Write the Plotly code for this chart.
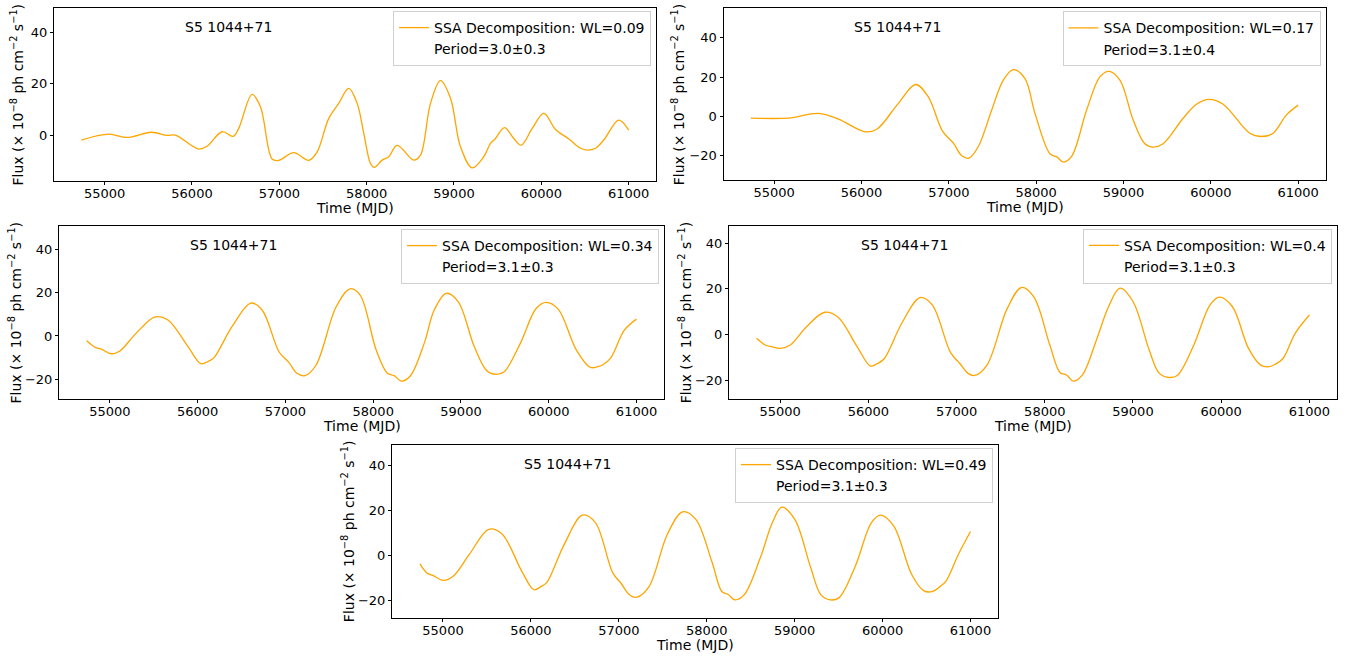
import plotly.graph_objects as go

# ---------------- data ----------------
source_name = "S5 1044+71"
wl_labels = ["SSA Decomposition: WL=0.09", "SSA Decomposition: WL=0.17",
             "SSA Decomposition: WL=0.34", "SSA Decomposition: WL=0.4",
             "SSA Decomposition: WL=0.49"]
period_labels = ["Period=3.0±0.3", "Period=3.1±0.4", "Period=3.1±0.3",
                 "Period=3.1±0.3", "Period=3.1±0.3"]

mjd1 = [54733, 55046, 55257, 55532, 55715, 55810, 56077, 56173, 56345, 56471, 56535,
        56688, 56784, 56918, 56993, 57165, 57337, 57433, 57566, 57680, 57795,
        57891, 57967, 58044, 58089, 58177, 58253, 58349, 58540, 58616, 58731,
        58845, 58960, 59074, 59208, 59341, 59418, 59475, 59578, 59685, 59770,
        59896, 60029, 60163, 60316, 60450, 60525, 60620, 60715, 60887, 61000]
flux1 = [-1.8, 0.5, -0.8, 1.2, 0.0, 0.1, -5.3, -4.2, 1.4, -0.4, 2.7,
         15.9, 11.1, -9.2, -9.7, -6.7, -9.7, -6.4, 6.6, 12.4, 18.2,
         12.4, 0.8, -10.9, -12.4, -9.6, -8.3, -3.9, -9.6, -7.7, 12.4,
         21.2, 14.4, -4.4, -12.6, -8.3, -3.1, -1.2, 3.0, -1.2, -3.8,
         2.7, 8.5, 2.3, -1.4, -5.0, -5.7, -5.0, -1.8, 5.9, 2.0]

mjd2 = [54733, 55164, 55507, 55736, 56041, 56175, 56422, 56621, 56765, 56926,
        57052, 57148, 57231, 57338, 57491, 57624, 57738, 57872, 57986, 58158,
        58241, 58310, 58406, 58578, 58730, 58836, 58959, 59111, 59245, 59340,
        59454, 59683, 59836, 59980, 60141, 60446, 60580, 60713, 60866, 61000]
flux2 = [-0.9, -0.9, 1.5, -1.4, -7.9, -6.6, 6.6, 16.2, 9.9, -7.4,
         -13.7, -20.1, -21.3, -15.4, 3.2, 18.4, 23.8, 19.2, 1.5, -19.1,
         -20.8, -23.3, -20.4, 3.2, 20.1, 22.9, 18.4, -1.9, -14.0, -15.7,
         -14.0, -1.0, 6.1, 8.6, 6.1, -8.6, -10.3, -8.6, 0.7, 5.7]

mjd3 = [54735, 54840, 54909, 55014, 55114, 55297, 55516, 55661, 55890, 56036,
        56118, 56186, 56391, 56606, 56734, 56930, 57039, 57131, 57222, 57349,
        57578, 57737, 57851, 58034, 58161, 58239, 58321, 58422, 58581, 58695,
        58832, 58969, 59151, 59297, 59402, 59493, 59676, 59858, 59973, 60109,
        60315, 60474, 60557, 60611, 60703, 60863, 60999]
flux3 = [-2.2, -5.4, -6.2, -8.2, -6.9, 1.2, 8.8, 7.4, -4.9, -12.8,
         -11.8, -10.0, 4.3, 15.2, 12.0, -7.5, -12.2, -17.2, -18.3, -13.4,
         13.5, 21.8, 18.9, -6.5, -17.2, -18.3, -20.8, -18.5, -3.4, 12.0,
         19.7, 15.8, -4.9, -16.2, -17.7, -16.5, -3.4, 12.8, 15.5, 12.3,
         -6.5, -14.5, -14.2, -13.4, -10.3, 2.8, 7.8]

mjd4 = [54733, 54830, 54908, 55000, 55115, 55299, 55506, 55657, 55874, 56025,
        56103, 56182, 56379, 56586, 56724, 56931, 57037, 57129, 57207, 57345,
        57575, 57736, 57874, 58057, 58172, 58251, 58324, 58425, 58586, 58724,
        58853, 59000, 59184, 59299, 59414, 59506, 59690, 59874, 59979, 60126,
        60310, 60448, 60540, 60609, 60701, 60839, 61000]
flux4 = [-1.6, -4.5, -5.3, -6.0, -4.5, 3.5, 9.8, 7.6, -5.3, -13.7,
         -12.6, -10.4, 5.0, 16.2, 13.0, -7.7, -12.6, -16.9, -17.8, -13.3,
         11.5, 20.6, 16.6, -4.5, -16.5, -17.7, -20.3, -17.7, -2.3, 12.3,
         20.3, 14.5, -6.7, -16.9, -18.7, -17.7, -4.5, 13.0, 16.4, 12.3,
         -6.0, -13.3, -14.0, -13.0, -10.4, 0.6, 8.6]

mjd5 = [54738, 54816, 54885, 55000, 55115, 55299, 55520, 55667, 55897, 56034,
        56117, 56182, 56379, 56586, 56733, 56931, 57023, 57124, 57207, 57345,
        57552, 57726, 57874, 58057, 58172, 58241, 58320, 58425, 58609, 58747,
        58853, 59000, 59184, 59299, 59405, 59506, 59690, 59874, 59979, 60126,
        60333, 60471, 60563, 60655, 60724, 60862, 61000]
flux5 = [-3.9, -7.9, -9.0, -11.2, -9.4, 0.3, 11.5, 9.6, -7.2, -15.4,
         -13.9, -12.1, 4.8, 17.8, 14.5, -7.9, -12.4, -17.7, -18.7, -13.9,
         9.3, 19.3, 16.0, -2.7, -16.2, -17.4, -19.9, -17.7, -1.2, 14.5,
         21.3, 16.0, -5.7, -17.7, -19.9, -18.9, -4.9, 14.5, 17.8, 13.0,
         -8.7, -15.9, -16.2, -13.9, -11.4, 0.3, 10.5]

x_ticks = [55000, 56000, 57000, 58000, 59000, 60000, 61000]
y_ticks = [-20, 0, 20, 40]

# ---------------- layout helpers ----------------
W, H = 1354, 658
# pixel boxes of each axes: (left, right, top, bottom)
boxes = [(54, 656, 8, 181), (723.5, 1325.5, 8.3, 180.3), (59, 664, 226, 399),
         (729, 1337, 225.7, 399), (392, 998, 445, 618.3)]
y_ranges = [[-17.7, 49.4], [-32.6, 55.0], [-29.1, 50.8], [-28.1, 47.6], [-28.1, 49.0]]
x_range = [54420, 61313]
ylabel_x = [17, 678, 15, 685, 347.5]

series = [(mjd1, flux1), (mjd2, flux2), (mjd3, flux3), (mjd4, flux4), (mjd5, flux5)]

FONT = "DejaVu Sans"
ORANGE = "#FFA500"
fig = go.Figure()
layout = dict(width=W, height=H, autosize=False,
              margin=dict(l=0, r=0, t=0, b=0),
              paper_bgcolor="white", plot_bgcolor="white",
              font=dict(family=FONT, size=13, color="black"),
              annotations=[])

ylab = "Flux (× 10<sup>−8</sup> ph cm<sup>−2</sup> s<sup>−1</sup>)"

for i, ((mx, fy), (l, r, t, b)) in enumerate(zip(series, boxes)):
    k = "" if i == 0 else str(i + 1)
    leg = "legend" if i == 0 else f"legend{i+1}"
    fig.add_trace(go.Scatter(x=mx, y=fy, mode="lines", name=wl_labels[i],
                             line=dict(color=ORANGE, width=1.3, shape="spline", smoothing=1.0),
                             xaxis="x" + k, yaxis="y" + k, legend=leg, hoverinfo="skip"))
    fig.add_trace(go.Scatter(x=[None], y=[None], mode="lines", name=period_labels[i],
                             line=dict(color="rgba(0,0,0,0)", width=1),
                             xaxis="x" + k, yaxis="y" + k, legend=leg, hoverinfo="skip"))
    axcommon = dict(showline=True, linecolor="black", linewidth=1, mirror=True,
                    ticks="outside", ticklen=3, tickwidth=1, tickcolor="black",
                    showgrid=False, zeroline=False,
                    tickfont=dict(family=FONT, size=13, color="black"))
    layout["xaxis" + k] = dict(domain=[l / W, r / W], range=x_range, anchor="y" + k,
                               tickvals=x_ticks, tickformat="d", ticklabelstandoff=-3,
                               **axcommon)
    layout["yaxis" + k] = dict(domain=[1 - b / H, 1 - t / H], range=y_ranges[i],
                               anchor="x" + k, tickvals=y_ticks, tickformat="d", **axcommon)
    layout[leg] = dict(x=(r - 5) / W, xanchor="right", y=1 - (t + 3) / H, yanchor="top",
                       bgcolor="white", bordercolor="#d0d0d0", borderwidth=1,
                       font=dict(family=FONT, size=14, color="black"),
                       itemwidth=30, tracegroupgap=0)
    xd = f"x{k} domain"
    yd = f"y{k} domain"
    layout["annotations"] += [
        dict(text=source_name, xref=xd, yref=yd, x=0.214, y=0.89, xanchor="left",
             yanchor="middle", showarrow=False, font=dict(family=FONT, size=14)),
        dict(text="Time (MJD)", xref=xd, yref=yd, x=0.5, y=0, yshift=-27,
             xanchor="center", yanchor="middle", showarrow=False,
             font=dict(family=FONT, size=14)),
        dict(text=ylab, xref="paper", yref=yd, x=ylabel_x[i] / W, y=0.5,
             xanchor="center", yanchor="middle", textangle=-90, showarrow=False,
             font=dict(family=FONT, size=14)),
    ]

fig.update_layout(**layout)
fig.write_html("out.html")
